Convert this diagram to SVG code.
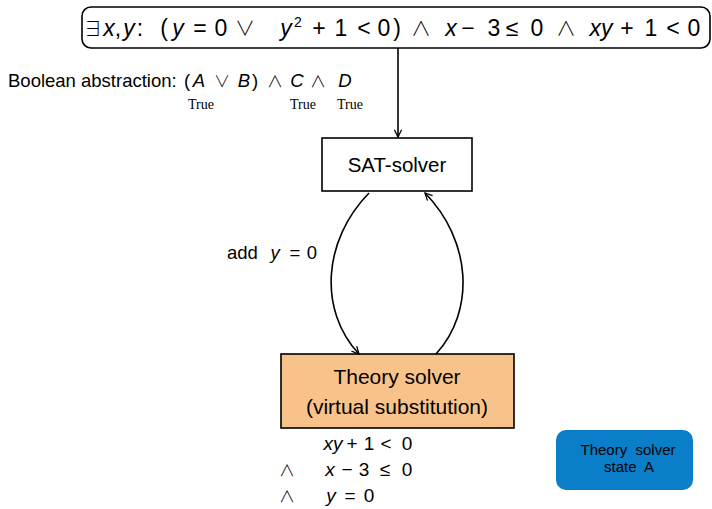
<svg xmlns="http://www.w3.org/2000/svg" width="712" height="509" viewBox="0 0 712 509">
<style>
text{font-family:"Liberation Sans",Arial,sans-serif;fill:#000;white-space:pre}
.m{text-anchor:middle}
.i{font-style:italic}
.o{font-family:"Noto Sans CJK JP","DejaVu Sans",sans-serif;font-weight:300}
.tr{font-family:"Liberation Serif","Times New Roman",serif;font-size:14px}
.ln{fill:none;stroke:#000;stroke-width:1.6}
</style>
<defs>
<marker id="ah" viewBox="0 0 10 10" refX="9" refY="5" markerWidth="9" markerHeight="9" orient="auto" markerUnits="userSpaceOnUse">
<path d="M1,1 L9,5 L1,9" fill="none" stroke="#000" stroke-width="1.4"/>
</marker>
</defs>
<rect width="712" height="509" fill="#fff"/>
<g id="formula">
<rect x="82" y="7" width="628" height="41" rx="9" fill="#fff" stroke="#000" stroke-width="1.6"/>
<text class="m" y="36" font-size="23"><tspan x="93" class="o" font-size="19">∃</tspan><tspan x="109" class="i">x</tspan><tspan x="118">,</tspan><tspan x="129" class="i">y</tspan><tspan x="140">:</tspan><tspan x="164">(</tspan><tspan x="178" class="i">y</tspan><tspan x="200">=</tspan><tspan x="221">0</tspan><tspan x="245" class="o" font-size="20">∨</tspan><tspan x="286" class="i">y</tspan><tspan x="298" y="27" font-size="14">2</tspan><tspan x="319" y="36">+</tspan><tspan x="341">1</tspan><tspan x="364">&lt;</tspan><tspan x="384">0</tspan><tspan x="397">)</tspan><tspan x="421" class="o" font-size="20">∧</tspan><tspan x="451" class="i">x</tspan><tspan x="468">−</tspan><tspan x="494">3</tspan><tspan x="512">≤</tspan><tspan x="537">0</tspan><tspan x="566" class="o" font-size="20">∧</tspan><tspan x="601" class="i">xy</tspan><tspan x="627">+</tspan><tspan x="651">1</tspan><tspan x="673">&lt;</tspan><tspan x="694">0</tspan></text>
</g>
<g id="abstraction">
<text x="8" y="87" font-size="18.5">Boolean abstraction:</text>
<text class="m" y="87" font-size="18.5"><tspan x="187">(</tspan><tspan x="199" class="i">A</tspan><tspan x="222" class="o" font-size="16">∨</tspan><tspan x="244" class="i">B</tspan><tspan x="255">)</tspan><tspan x="275" class="o" font-size="16">∧</tspan><tspan x="297" class="i">C</tspan><tspan x="318" class="o" font-size="16">∧</tspan><tspan x="345" class="i">D</tspan></text>
<text class="tr" x="188" y="109">True</text>
<text class="tr" x="290" y="109">True</text>
<text class="tr" x="337" y="109">True</text>
</g>
<g id="sat">
<rect x="322" y="138" width="150" height="53" fill="#fff" stroke="#000" stroke-width="1.6"/>
<text x="397" y="172" font-size="20.5" class="m">SAT-solver</text>
</g>
<g id="theory">
<rect x="281" y="354" width="233" height="74" fill="#F7C38A" stroke="#000" stroke-width="1.6"/>
<text x="397" y="384" font-size="21" class="m">Theory solver</text>
<text x="397" y="414" font-size="21" class="m">(virtual substitution)</text>
</g>
<g id="constraints">
<text class="m" y="450" font-size="19"><tspan x="333" class="i">xy</tspan><tspan x="352">+</tspan><tspan x="369">1</tspan><tspan x="386">&lt;</tspan><tspan x="407">0</tspan></text>
<text class="m" y="476" font-size="19"><tspan x="287" class="o" font-size="16">∧</tspan><tspan x="330" class="i">x</tspan><tspan x="347">−</tspan><tspan x="364">3</tspan><tspan x="385">≤</tspan><tspan x="407">0</tspan></text>
<text class="m" y="502" font-size="19"><tspan x="287" class="o" font-size="16">∧</tspan><tspan x="331" class="i">y</tspan><tspan x="350">=</tspan><tspan x="369">0</tspan></text>
</g>
<g id="stateA">
<rect x="556" y="430" width="137" height="60" rx="10" fill="#0A7EC8"/>
<text x="628" y="455" font-size="15" class="m">Theory  solver</text>
<text x="629" y="472" font-size="15" class="m">state  A</text>
</g>
<g id="connectors">
<path class="ln" d="M398,48 L398,137" marker-end="url(#ah)"/>
<path class="ln" d="M369,193 C323,240 318,310 359,354" marker-end="url(#ah)"/>
<path class="ln" d="M436,354 C476,310 471,240 425,193" marker-end="url(#ah)"/>
<text x="227" y="259" font-size="18.5">add</text>
<text class="m" y="259" font-size="18.5"><tspan x="275" class="i">y</tspan><tspan x="295">=</tspan><tspan x="312">0</tspan></text>
</g>
</svg>
